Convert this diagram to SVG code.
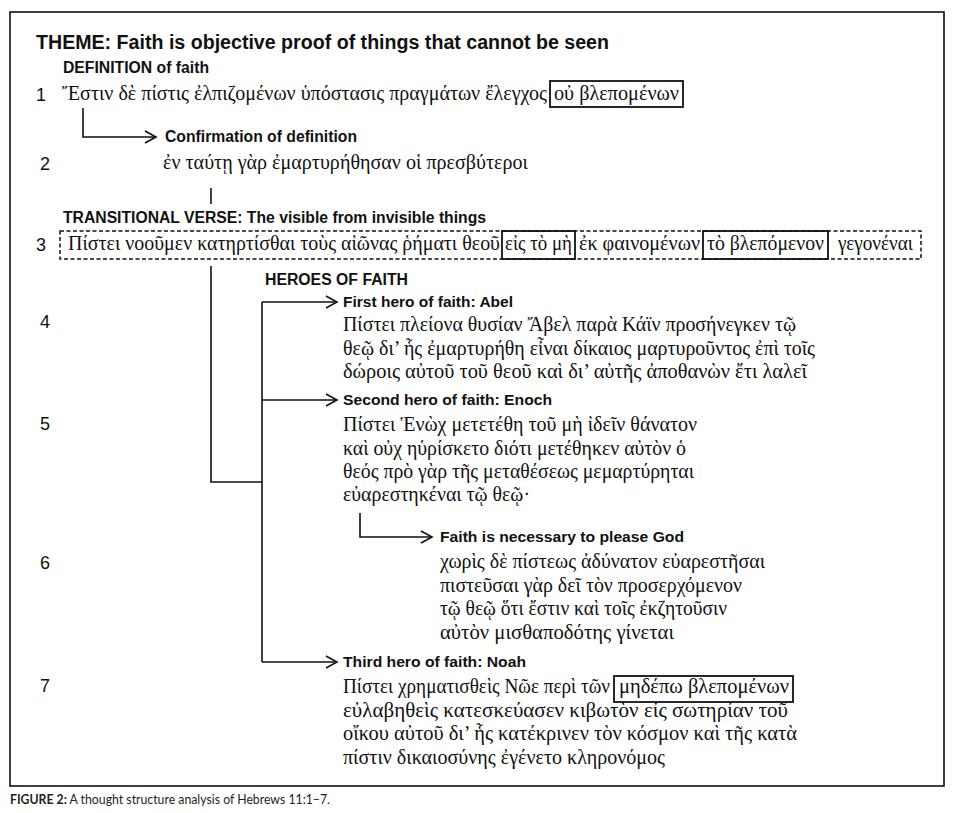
<svg xmlns="http://www.w3.org/2000/svg" width="957" height="813" viewBox="0 0 957 813">
<style>
.lb{font-family:"Liberation Sans",Arial,sans-serif;font-weight:bold;fill:#111}
.num{font-family:"Liberation Sans",Arial,sans-serif;font-size:18px;fill:#111}
.gk{font-family:"Liberation Serif","DejaVu Serif",serif;font-size:21px;fill:#111}
.ln{fill:none;stroke:#111;stroke-width:1.6}
.bx{fill:none;stroke:#111;stroke-width:1.8}
.cap{font-family:Lato,"Open Sans",sans-serif;font-size:13.5px;fill:#231f20}
</style>
<defs>
<marker id="ah" markerUnits="userSpaceOnUse" markerWidth="14" markerHeight="16" refX="12" refY="7" orient="auto">
<path d="M1,1 L12,7 L1,13" fill="none" stroke="#111" stroke-width="1.6"/>
</marker>
</defs>
<rect x="10" y="12" width="934" height="774" fill="#fff" stroke="#111" stroke-width="1.6"/>

<g id="theme"><text class="lb" x="36" y="49" font-size="19.5" textLength="573" lengthAdjust="spacingAndGlyphs">THEME: Faith is objective proof of things that cannot be seen</text></g>

<g id="verse1">
<text class="lb" x="63" y="73" font-size="16" textLength="146" lengthAdjust="spacingAndGlyphs">DEFINITION of faith</text>
<text class="num" x="36" y="101">1</text>
<text class="gk" x="62" y="100" textLength="485" lengthAdjust="spacingAndGlyphs">Ἔστιν δὲ πίστις ἐλπιζομένων ὑπόστασις πραγμάτων ἔλεγχος</text>
<rect class="bx" x="550" y="81" width="133" height="26"/>
<text class="gk" x="554" y="100" textLength="125" lengthAdjust="spacingAndGlyphs">οὐ βλεπομένων</text>
</g>

<g id="verse2">
<text class="lb" x="165" y="142" font-size="16" textLength="192" lengthAdjust="spacingAndGlyphs">Confirmation of definition</text>
<text class="num" x="40" y="170">2</text>
<text class="gk" x="163" y="169" textLength="365" lengthAdjust="spacingAndGlyphs">ἐν ταύτῃ γὰρ ἐμαρτυρήθησαν οἱ  πρεσβύτεροι</text>
</g>

<g id="verse3">
<text class="lb" x="63" y="223" font-size="16" textLength="423" lengthAdjust="spacingAndGlyphs">TRANSITIONAL VERSE: The visible from invisible things</text>
<text class="num" x="36" y="251">3</text>
<rect x="60" y="231" width="861" height="28" fill="none" stroke="#111" stroke-width="1.5" stroke-dasharray="4,2.5"/>
<text class="gk" x="68" y="250" textLength="432" lengthAdjust="spacingAndGlyphs">Πίστει νοοῦμεν κατηρτίσθαι τοὺς αἰῶνας ῥήματι θεοῦ</text>
<rect class="bx" x="502" y="231" width="73" height="28"/>
<text class="gk" x="505" y="250" textLength="67" lengthAdjust="spacingAndGlyphs">εἰς τὸ μὴ</text>
<text class="gk" x="579" y="250" textLength="121" lengthAdjust="spacingAndGlyphs">ἐκ φαινομένων</text>
<rect class="bx" x="703" y="231" width="125" height="28"/>
<text class="gk" x="707" y="250" textLength="117" lengthAdjust="spacingAndGlyphs">τὸ βλεπόμενον</text>
<text class="gk" x="838" y="250" textLength="75" lengthAdjust="spacingAndGlyphs">γεγονέναι</text>
</g>

<g id="heroes">
<text class="lb" x="265" y="285" font-size="16" textLength="143" lengthAdjust="spacingAndGlyphs">HEROES OF FAITH</text>
</g>

<g id="verse4">
<text class="lb" x="343" y="307" font-size="15.5" textLength="170" lengthAdjust="spacingAndGlyphs">First hero of faith: Abel</text>
<text class="num" x="40" y="328">4</text>
<text class="gk" x="343" y="331" textLength="453" lengthAdjust="spacingAndGlyphs">Πίστει πλείονα θυσίαν Ἄβελ παρὰ Κάϊν προσήνεγκεν τῷ</text>
<text class="gk" x="343" y="355" textLength="472" lengthAdjust="spacingAndGlyphs">θεῷ δι’ ἧς ἐμαρτυρήθη εἶναι δίκαιος μαρτυροῦντος ἐπὶ τοῖς</text>
<text class="gk" x="343" y="378" textLength="464" lengthAdjust="spacingAndGlyphs">δώροις αὐτοῦ τοῦ θεοῦ καὶ δι’ αὐτῆς ἀποθανὼν ἔτι λαλεῖ</text>
</g>

<g id="verse5">
<text class="lb" x="343" y="405" font-size="15.5" textLength="209" lengthAdjust="spacingAndGlyphs">Second hero of faith: Enoch</text>
<text class="num" x="40" y="430">5</text>
<text class="gk" x="343" y="431" textLength="354" lengthAdjust="spacingAndGlyphs">Πίστει Ἑνὼχ μετετέθη τοῦ μὴ ἰδεῖν θάνατον</text>
<text class="gk" x="343" y="455" textLength="343" lengthAdjust="spacingAndGlyphs">καὶ οὐχ ηὑρίσκετο διότι μετέθηκεν αὐτὸν ὁ</text>
<text class="gk" x="343" y="478" textLength="351" lengthAdjust="spacingAndGlyphs">θεός πρὸ γὰρ τῆς μεταθέσεως μεμαρτύρηται</text>
<text class="gk" x="343" y="501" textLength="187" lengthAdjust="spacingAndGlyphs">εὐαρεστηκέναι τῷ θεῷ·</text>
</g>

<g id="verse6">
<text class="lb" x="440" y="542" font-size="15.5" textLength="244" lengthAdjust="spacingAndGlyphs">Faith is necessary to please God</text>
<text class="num" x="40" y="569">6</text>
<text class="gk" x="440" y="568" textLength="325" lengthAdjust="spacingAndGlyphs">χωρὶς δὲ πίστεως ἀδύνατον εὐαρεστῆσαι</text>
<text class="gk" x="440" y="592" textLength="302" lengthAdjust="spacingAndGlyphs">πιστεῦσαι γὰρ δεῖ τὸν προσερχόμενον</text>
<text class="gk" x="440" y="615" textLength="287" lengthAdjust="spacingAndGlyphs">τῷ θεῷ ὅτι ἔστιν καὶ τοῖς ἐκζητοῦσιν</text>
<text class="gk" x="440" y="639" textLength="234" lengthAdjust="spacingAndGlyphs">αὐτὸν  μισθαποδότης γίνεται</text>
</g>

<g id="verse7">
<text class="lb" x="343" y="667" font-size="15.5" textLength="183" lengthAdjust="spacingAndGlyphs">Third hero of faith: Noah</text>
<text class="num" x="40" y="692">7</text>
<text class="gk" x="343" y="693" textLength="267" lengthAdjust="spacingAndGlyphs">Πίστει χρηματισθεὶς Νῶε περὶ τῶν</text>
<rect class="bx" x="614" y="676" width="179" height="26"/>
<text class="gk" x="619" y="693" textLength="170" lengthAdjust="spacingAndGlyphs">μηδέπω βλεπομένων</text>
<text class="gk" x="343" y="717" textLength="445" lengthAdjust="spacingAndGlyphs">εὐλαβηθεὶς κατεσκεύασεν κιβωτὸν εἰς σωτηρίαν τοῦ</text>
<text class="gk" x="343" y="740" textLength="454" lengthAdjust="spacingAndGlyphs">οἴκου αὐτοῦ δι’ ἧς κατέκρινεν τὸν κόσμον καὶ τῆς κατὰ</text>
<text class="gk" x="343" y="764" textLength="322" lengthAdjust="spacingAndGlyphs">πίστιν δικαιοσύνης ἐγένετο κληρονόμος</text>
</g>

<g id="connectors">
<path class="ln" d="M83,108 V137 H156" marker-end="url(#ah)"/>
<path class="ln" d="M211,188 V204"/>
<path class="ln" d="M211,266 V482 H262"/>
<path class="ln" d="M262,302 V662"/>
<path class="ln" d="M262,302 H337" marker-end="url(#ah)"/>
<path class="ln" d="M262,400 H337" marker-end="url(#ah)"/>
<path class="ln" d="M262,662 H337" marker-end="url(#ah)"/>
<path class="ln" d="M360,513 V537 H432" marker-end="url(#ah)"/>
</g>

<g id="caption">
<text class="cap" x="10" y="804" textLength="320" lengthAdjust="spacingAndGlyphs"><tspan font-weight="bold">FIGURE 2:</tspan> A thought structure analysis of Hebrews 11:1–7.</text>
</g>
</svg>
